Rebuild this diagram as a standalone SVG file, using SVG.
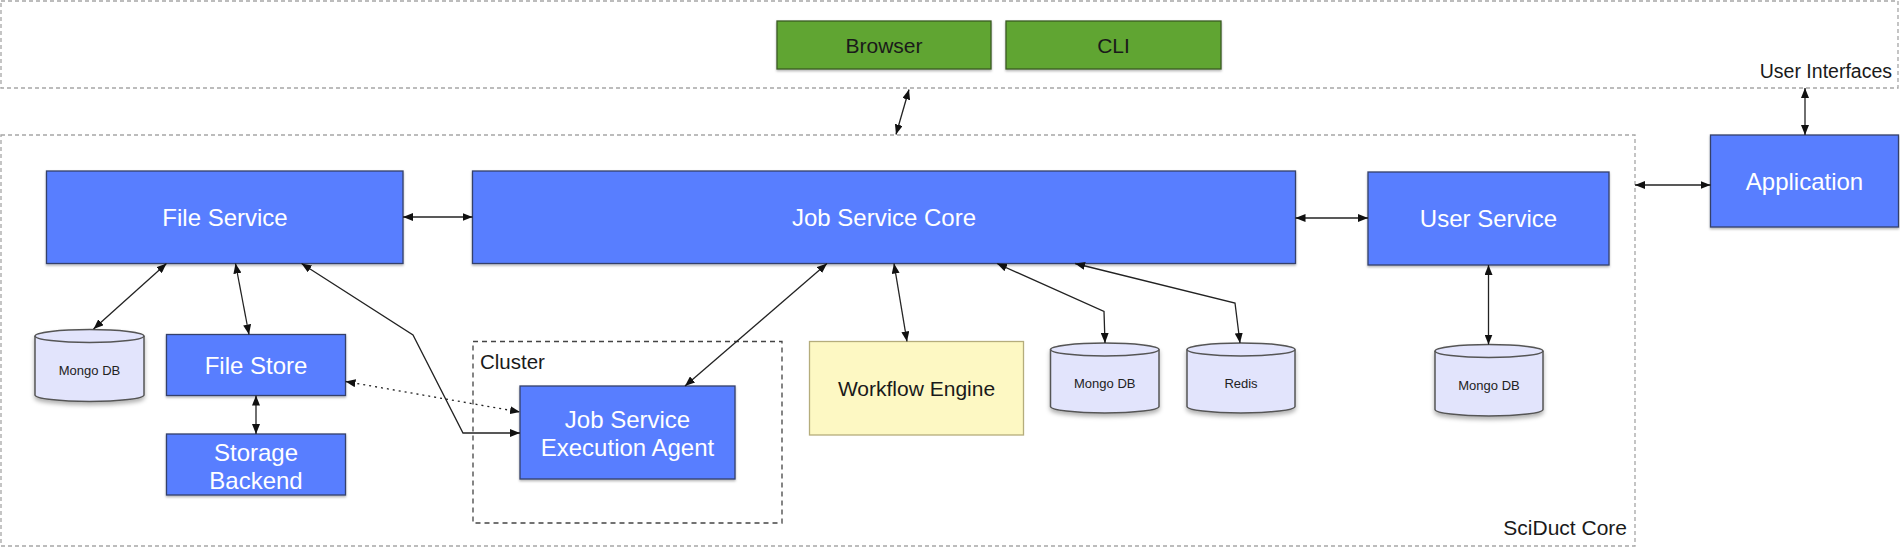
<svg xmlns="http://www.w3.org/2000/svg" width="1900" height="548" viewBox="0 0 1900 548">
<style>
text{font-family:"Liberation Sans",Arial,sans-serif;}
.zone{fill:none;stroke:#a6a6a6;stroke-width:1.3;stroke-dasharray:4 3;}
.cluster{fill:none;stroke:#444;stroke-width:1.3;stroke-dasharray:5 4;}
.blue{fill:#587eff;stroke:#34406a;stroke-width:1.3;filter:url(#sh);}
.green{fill:#60a530;stroke:#3b5a22;stroke-width:1.3;filter:url(#sh);}
.yellow{fill:#fdf8c3;stroke:#b5ad7c;stroke-width:1.3;}
.cyl{fill:#e2e4fc;stroke:#555;stroke-width:1.5;}
.cylsh{filter:url(#sh2);}
.wt{fill:#fff;font-size:24px;text-anchor:middle;dominant-baseline:central;}
.bt{fill:#1a1a1a;font-size:21px;text-anchor:middle;dominant-baseline:central;}
.st{fill:#222;font-size:13px;text-anchor:middle;dominant-baseline:central;}
.lbl{fill:#1a1a1a;font-size:20px;}
.c{fill:none;stroke:#222;stroke-width:1.3;marker-start:url(#ah);marker-end:url(#ah);}
.dot{stroke-dasharray:2 4;}
</style>
<defs>
<marker id="ah" viewBox="0 0 10 8" refX="10" refY="4" markerWidth="10" markerHeight="8" markerUnits="userSpaceOnUse" orient="auto-start-reverse">
<path d="M0,0 L10,4 L0,8 z" fill="#111"/>
</marker>
<filter id="sh" x="-5%" y="-10%" width="110%" height="130%">
<feDropShadow dx="0" dy="1.5" stdDeviation="1" flood-color="#000" flood-opacity="0.3"/>
</filter>
<filter id="sh2" x="-10%" y="-10%" width="120%" height="130%">
<feDropShadow dx="0" dy="3" stdDeviation="2" flood-color="#000" flood-opacity="0.3"/>
</filter>
</defs>

<g id="user-interfaces">
<rect class="zone" x="1" y="1" width="1897" height="87"/>
<text class="lbl" x="1892" y="78" text-anchor="end" style="font-size:19.5px">User Interfaces</text>
</g>
<g id="sciduct-core">
<rect class="zone" x="1" y="135" width="1634" height="411"/>
<text class="lbl" x="1627" y="535" text-anchor="end" style="font-size:21px">SciDuct Core</text>
</g>
<g id="cluster">
<rect class="cluster" x="473" y="341.5" width="309" height="181.5"/>
<text class="lbl" x="480" y="369" style="font-size:20.5px">Cluster</text>
</g>

<g id="browser">
<rect class="green" x="777" y="21" width="214" height="48"/>
<text class="bt" x="884" y="45">Browser</text>
</g>
<g id="cli">
<rect class="green" x="1006" y="21" width="215" height="48"/>
<text class="bt" x="1113.5" y="45">CLI</text>
</g>

<g id="file-service">
<rect class="blue" x="46.5" y="171" width="356.5" height="92.5"/>
<text class="wt" x="225" y="217">File Service</text>
</g>
<g id="job-service-core">
<rect class="blue" x="472.5" y="171" width="823" height="92.5"/>
<text class="wt" x="884" y="217">Job Service Core</text>
</g>
<g id="user-service">
<rect class="blue" x="1368" y="172" width="241" height="93"/>
<text class="wt" x="1488.5" y="218.5">User Service</text>
</g>
<g id="application">
<rect class="blue" x="1710.5" y="135" width="188" height="92"/>
<text class="wt" x="1804.5" y="181">Application</text>
</g>
<g id="file-store">
<rect class="blue" x="166.5" y="334.5" width="179" height="61"/>
<text class="wt" x="256" y="365.5">File Store</text>
</g>
<g id="storage-backend">
<rect class="blue" x="166.5" y="434" width="179" height="61"/>
<text class="wt" x="256" y="452.5">Storage</text>
<text class="wt" x="256" y="480">Backend</text>
</g>
<g id="job-service-execution-agent">
<rect class="blue" x="520" y="386" width="215" height="93"/>
<text class="wt" x="627.5" y="419.5">Job Service</text>
<text class="wt" x="627.5" y="447.5">Execution Agent</text>
</g>
<g id="workflow-engine">
<rect class="yellow" x="809.5" y="341.5" width="214" height="93.5"/>
<text class="bt" x="916.5" y="388.5">Workflow Engine</text>
</g>

<g id="mongo-db-file">
<g class="cylsh">
<path class="cyl" d="M35,336 A54.5,6.5 0 0 1 144,336 L144,395 A54.5,6.5 0 0 1 35,395 Z"/>
<path class="cyl" style="fill:none" d="M35,336 A54.5,6.5 0 0 0 144,336"/>
</g>
<text class="st" x="89.5" y="370">Mongo DB</text>
</g>
<g id="mongo-db-job">
<g class="cylsh">
<path class="cyl" d="M1050.5,349.5 A54.25,6.5 0 0 1 1159,349.5 L1159,406.5 A54.25,6.5 0 0 1 1050.5,406.5 Z"/>
<path class="cyl" style="fill:none" d="M1050.5,349.5 A54.25,6.5 0 0 0 1159,349.5"/>
</g>
<text class="st" x="1104.75" y="383">Mongo DB</text>
</g>
<g id="redis">
<g class="cylsh">
<path class="cyl" d="M1187,349.5 A54,6.5 0 0 1 1295,349.5 L1295,406.5 A54,6.5 0 0 1 1187,406.5 Z"/>
<path class="cyl" style="fill:none" d="M1187,349.5 A54,6.5 0 0 0 1295,349.5"/>
</g>
<text class="st" x="1241" y="383">Redis</text>
</g>
<g id="mongo-db-user">
<g class="cylsh">
<path class="cyl" d="M1435,351 A54,6.5 0 0 1 1543,351 L1543,409.5 A54,6.5 0 0 1 1435,409.5 Z"/>
<path class="cyl" style="fill:none" d="M1435,351 A54,6.5 0 0 0 1543,351"/>
</g>
<text class="st" x="1489" y="385.5">Mongo DB</text>
</g>

<g id="connectors">
<path class="c" d="M909,89.5 L896,134.5"/>
<path class="c" d="M403,217 L472.5,217"/>
<path class="c" d="M1295.5,218 L1368,218"/>
<path class="c" d="M1635,185 L1710.5,185"/>
<path class="c" d="M1805,88 L1805,135"/>
<path class="c" d="M166.5,263.5 L93.5,329"/>
<path class="c" d="M235.5,263.5 L249,334.5"/>
<path class="c" d="M301.5,263.5 L413,335 L463,433 L520,433"/>
<path class="c" d="M256,395.5 L256,434"/>
<path class="c dot" d="M345.5,381.5 L520,412"/>
<path class="c" d="M827,263.5 L685,386"/>
<path class="c" d="M894,263.5 L907,341.5"/>
<path class="c" d="M997,263.5 L1104,311.5 L1105,343"/>
<path class="c" d="M1075,263.5 L1235,303 L1240,343"/>
<path class="c" d="M1488.5,265 L1488.5,344.5"/>
</g>
</svg>
